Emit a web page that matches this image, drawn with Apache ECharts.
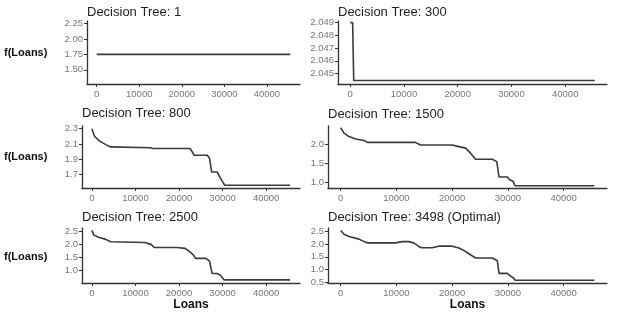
<!DOCTYPE html>
<html>
<head>
<meta charset="utf-8">
<script src="https://cdn.jsdelivr.net/npm/echarts@6/dist/echarts.min.js"></script>
<style>
  html, body { margin: 0; padding: 0; background: #fff; }
  #chart { width: 618px; height: 314px; }
</style>
</head>
<body>
<div id="chart"></div>
<script>
  // panel titles
  const titles = ['Decision Tree: 1', 'Decision Tree: 300', 'Decision Tree: 800',
    'Decision Tree: 1500', 'Decision Tree: 2500', 'Decision Tree: 3498 (Optimal)']

  // x ticks shared by all panels
  const loanTicks = [0, 10000, 20000, 30000, 40000]

  // tree 1
  const loansTree1 = [0, 45500]
  const fTree1 = [1.75, 1.75]
  const ticksTree1 = [1.50, 1.75, 2.00, 2.25]

  // tree 300
  const loansTree300 = [0, 450, 650, 45500]
  const fTree300 = [2.0490, 2.0490, 2.04445, 2.04445]
  const ticksTree300 = [2.045, 2.046, 2.047, 2.048, 2.049]

  // tree 800
  const loansTree800 = [0, 600, 1700, 3200, 4300, 4700, 13500, 14000, 22500, 23000, 23500, 26500,
    27000, 27500, 28800, 29400, 30000, 30500, 45500]
  const fTree800 = [2.30, 2.20, 2.14, 2.09, 2.06, 2.05, 2.05, 2.04, 2.04, 2.00, 1.95, 1.95,
    1.91, 1.73, 1.73, 1.66, 1.60, 1.556, 1.556]
  const ticksTree800 = [1.7, 1.9, 2.1, 2.3]

  // tree 1500
  const loansTree1500 = [0, 600, 1500, 2700, 4200, 4800, 13400, 14300, 20000, 21200, 22400, 23300,
    24200, 27200, 28000, 28400, 29900, 30300, 30900, 31300, 45500]
  const fTree1500 = [2.42, 2.28, 2.19, 2.13, 2.09, 2.04, 2.04, 1.97, 1.97, 1.93, 1.89, 1.76,
    1.60, 1.60, 1.54, 1.14, 1.14, 1.07, 1.03, 0.91, 0.91]
  const ticksTree1500 = [1.0, 1.5, 2.0]

  // tree 2500
  const loansTree2500 = [0, 450, 1700, 3200, 4300, 4700, 12100, 13600, 14300, 19500, 21400, 21800,
    22500, 23300, 23800, 26200, 27000, 27600, 28800, 29600, 30300, 45500]
  const fTree2500 = [2.52, 2.34, 2.25, 2.18, 2.09, 2.06, 2.06, 1.99, 1.87, 1.87, 1.84, 1.84,
    1.71, 1.59, 1.46, 1.46, 1.36, 0.89, 0.89, 0.81, 0.65, 0.65]
  const ticksTree2500 = [1.0, 1.5, 2.0, 2.5]

  // tree 3498 (optimal)
  const loansTree3498 = [0, 600, 1500, 3300, 4500, 5000, 9850, 11000, 12200, 13100, 14000, 14500,
    16400, 17600, 20000, 21200, 22100, 23000, 24200, 27200, 28100, 28400, 29900, 30300, 31000,
    31300, 45500]
  const fTree3498 = [2.54, 2.39, 2.30, 2.20, 2.07, 2.05, 2.05, 2.10, 2.10, 2.05, 1.91, 1.86,
    1.86, 1.92, 1.92, 1.85, 1.75, 1.62, 1.45, 1.45, 1.34, 0.84, 0.84, 0.76, 0.66, 0.57, 0.57]
  const ticksTree3498 = [0.5, 1.0, 1.5, 2.0, 2.5]

  const FONT = 'Liberation Sans'
  const chart = echarts.init(document.getElementById('chart'), null, { renderer: 'canvas' })

  const panels = [
    { x: loansTree1, y: fTree1, ticks: ticksTree1, left: 87, right: 318, top: 21, height: 63, min: 1.27, max: 2.29, dec: 2, tTop: 6 },
    { x: loansTree300, y: fTree300, ticks: ticksTree300, left: 338, right: 11, top: 21, height: 63, min: 2.04418, max: 2.04913, dec: 3, tTop: 6 },
    { x: loansTree800, y: fTree800, ticks: ticksTree800, left: 82, right: 318, top: 126, height: 62, min: 1.52, max: 2.335, dec: 1, tTop: 107 },
    { x: loansTree1500, y: fTree1500, ticks: ticksTree1500, left: 328, right: 11, top: 126, height: 62, min: 0.853, max: 2.466, dec: 1, tTop: 108 },
    { x: loansTree2500, y: fTree2500, ticks: ticksTree2500, left: 82, right: 318, top: 228, height: 55, min: 0.53, max: 2.61, dec: 1, tTop: 211 },
    { x: loansTree3498, y: fTree3498, ticks: ticksTree3498, left: 328, right: 11, top: 228, height: 55, min: 0.46, max: 2.64, dec: 1, tTop: 211 }
  ]

  const axisColor = '#333'
  const grid = []
  const xAxis = []
  const yAxis = []
  const series = []
  const title = []

  panels.forEach((p, i) => {
    grid.push({ left: p.left, right: p.right, top: p.top, height: p.height })
    xAxis.push({
      type: 'value',
      gridIndex: i,
      min: -2275,
      max: 47775,
      name: i >= 4 ? 'Loans' : '',
      nameLocation: 'middle',
      nameGap: 11,
      nameTextStyle: { fontFamily: FONT, fontSize: 12, fontWeight: 'bold', color: '#111' },
      splitLine: { show: false },
      axisLine: { show: true, onZero: false, lineStyle: { color: axisColor, width: 1.3 } },
      axisTick: { show: true, length: 3, customValues: loanTicks, lineStyle: { color: axisColor } },
      axisLabel: {
        customValues: loanTicks,
        margin: 5,
        fontFamily: FONT,
        fontSize: 9.5,
        color: '#777',
        formatter: v => String(v)
      }
    })
    yAxis.push({
      type: 'value',
      gridIndex: i,
      min: p.min,
      max: p.max,
      splitLine: { show: false },
      axisLine: { show: true, onZero: false, lineStyle: { color: axisColor, width: 1.3 } },
      axisTick: { show: true, length: 3, customValues: p.ticks, lineStyle: { color: axisColor } },
      axisLabel: {
        customValues: p.ticks,
        margin: 4,
        fontFamily: FONT,
        fontSize: 9.5,
        color: '#777',
        formatter: v => Number(v).toFixed(p.dec)
      }
    })
    series.push({
      type: 'line',
      xAxisIndex: i,
      yAxisIndex: i,
      showSymbol: false,
      animation: false,
      lineStyle: { color: '#3a3a3a', width: 1.6 },
      data: p.x.map((v, k) => [v, p.y[k]])
    })
    title.push({
      text: titles[i],
      left: p.left,
      top: p.tTop,
      padding: 0,
      textStyle: { fontFamily: FONT, fontSize: 13, fontWeight: 'normal', color: '#222' }
    })
  })

  // shared y-axis titles on the left column
  const graphic = [54, 158, 258].map(cy => ({
    type: 'text',
    left: 4,
    top: cy - 7,
    style: { text: 'f(Loans)', fontFamily: FONT, fontSize: 11, fontWeight: 'bold', fill: '#111' }
  }))

  chart.setOption({
    animation: false,
    title: title,
    grid: grid,
    xAxis: xAxis,
    yAxis: yAxis,
    series: series,
    graphic: graphic
  })
</script>
</body>
</html>
